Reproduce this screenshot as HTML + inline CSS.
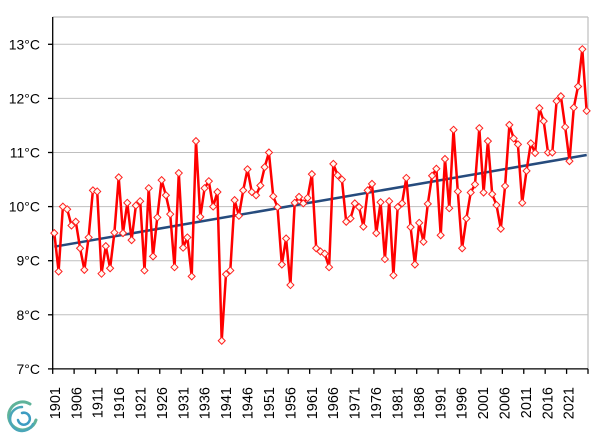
<!DOCTYPE html>
<html><head><meta charset="utf-8"><style>
html,body{margin:0;padding:0;background:#fff;}
svg{display:block;font-family:"Liberation Sans",sans-serif;}
</style></head><body>
<svg id="c" width="613" height="435" viewBox="0 0 613 435" xmlns="http://www.w3.org/2000/svg">
<g id="grid" stroke="#bfbfbf" stroke-width="1"></g>
<line x1="588" y1="17" x2="588" y2="369" stroke="#bfbfbf" stroke-width="1.2"/>
<line x1="52.7" y1="17" x2="588" y2="17" stroke="#bfbfbf" stroke-width="1.2"/>
<g id="axes" stroke="#000" stroke-width="1.3"></g>
<g id="ylab" font-size="14" fill="#000" text-anchor="end"></g>
<g id="xlab" font-size="14.5" fill="#000"></g>
<line x1="54.3" y1="246.7" x2="586.7" y2="155" stroke="#264b7d" stroke-width="2.5"/>
<polyline id="ser" fill="none" stroke="#ff0000" stroke-width="2.5" stroke-linejoin="round"/>
<g id="mk" fill="#fffaf0" stroke="#ff2020" stroke-width="1"></g>
<g fill="none" stroke-linecap="round">
<path d="M30 404 A14 14 0 1 0 36 420" stroke="#5fb39a" stroke-width="3"/>
<path d="M22 407 A12 12 0 1 0 33 424" stroke="#4aa6b8" stroke-width="2.5"/>
<path d="M22 413 A6 6 0 1 1 18 420" stroke="#3d9cc2" stroke-width="2.5"/>
</g>
</svg>
<script>
var d=[9.51,8.80,10.0,9.95,9.65,9.72,9.23,8.83,9.43,10.30,10.28,8.76,9.27,8.86,9.52,10.54,9.51,10.07,9.38,10.02,10.10,8.82,10.34,9.08,9.80,10.49,10.21,9.86,8.88,10.62,9.24,9.43,8.71,11.21,9.81,10.34,10.47,10.0,10.27,7.52,8.75,8.82,10.12,9.83,10.30,10.69,10.27,10.21,10.39,10.73,11.0,10.19,9.99,8.93,9.41,8.55,10.07,10.18,10.06,10.16,10.60,9.23,9.17,9.13,8.88,10.79,10.58,10.50,9.72,9.78,10.06,9.99,9.63,10.30,10.42,9.51,10.08,9.03,10.10,8.73,9.99,10.06,10.53,9.62,8.93,9.70,9.35,10.05,10.57,10.70,9.47,10.88,9.97,11.42,10.28,9.23,9.78,10.26,10.41,11.45,10.26,11.21,10.23,10.03,9.59,10.38,11.51,11.26,11.15,10.07,10.66,11.17,10.99,11.82,11.58,11.0,11.0,11.95,12.04,11.47,10.84,11.83,12.22,12.91,11.77];
var NS="http://www.w3.org/2000/svg";
function el(p,t,a,txt){var e=document.createElementNS(NS,t);for(var k in a)e.setAttribute(k,a[k]);if(txt!=null)e.textContent=txt;document.getElementById(p).appendChild(e);return e;}
function Y(v){return 44.3+(13-v)*54.1;}
var x0=52.7,x1=588,cw=(x1-x0)/125;
for(var v=8;v<=13;v++)el("grid","line",{x1:x0,x2:x1,y1:Y(v),y2:Y(v)});
for(var v=7;v<=13;v++){el("axes","line",{x1:48,x2:x0,y1:Y(v),y2:Y(v)});el("ylab","text",{x:40,y:Y(v)+5},v+"°C");}
el("axes","line",{x1:x0,x2:x0,y1:17,y2:Y(7)});
el("axes","line",{x1:x0,x2:x1,y1:Y(7),y2:Y(7)});
for(var i=0;i<=25;i++){var x=x0+i*5*cw;el("axes","line",{x1:x,x2:x,y1:Y(7),y2:Y(7)+5});}
for(var i=0;i<25;i++){var yr=1901+i*5,x=x0+(i*5+0.5)*cw+5;el("xlab","text",{x:0,y:0,transform:"translate("+x+",387) rotate(-90)","text-anchor":"end"},yr);}
var pts=[];
for(var i=0;i<d.length;i++){var x=54.3+i*4.293,y=Y(d[i]);pts.push(x.toFixed(1)+","+y.toFixed(1));
el("mk","path",{d:"M"+x+" "+(y-3.5)+"L"+(x+3.5)+" "+y+"L"+x+" "+(y+3.5)+"L"+(x-3.5)+" "+y+"Z"});}
document.getElementById("ser").setAttribute("points",pts.join(" "));
</script>
</body></html>
